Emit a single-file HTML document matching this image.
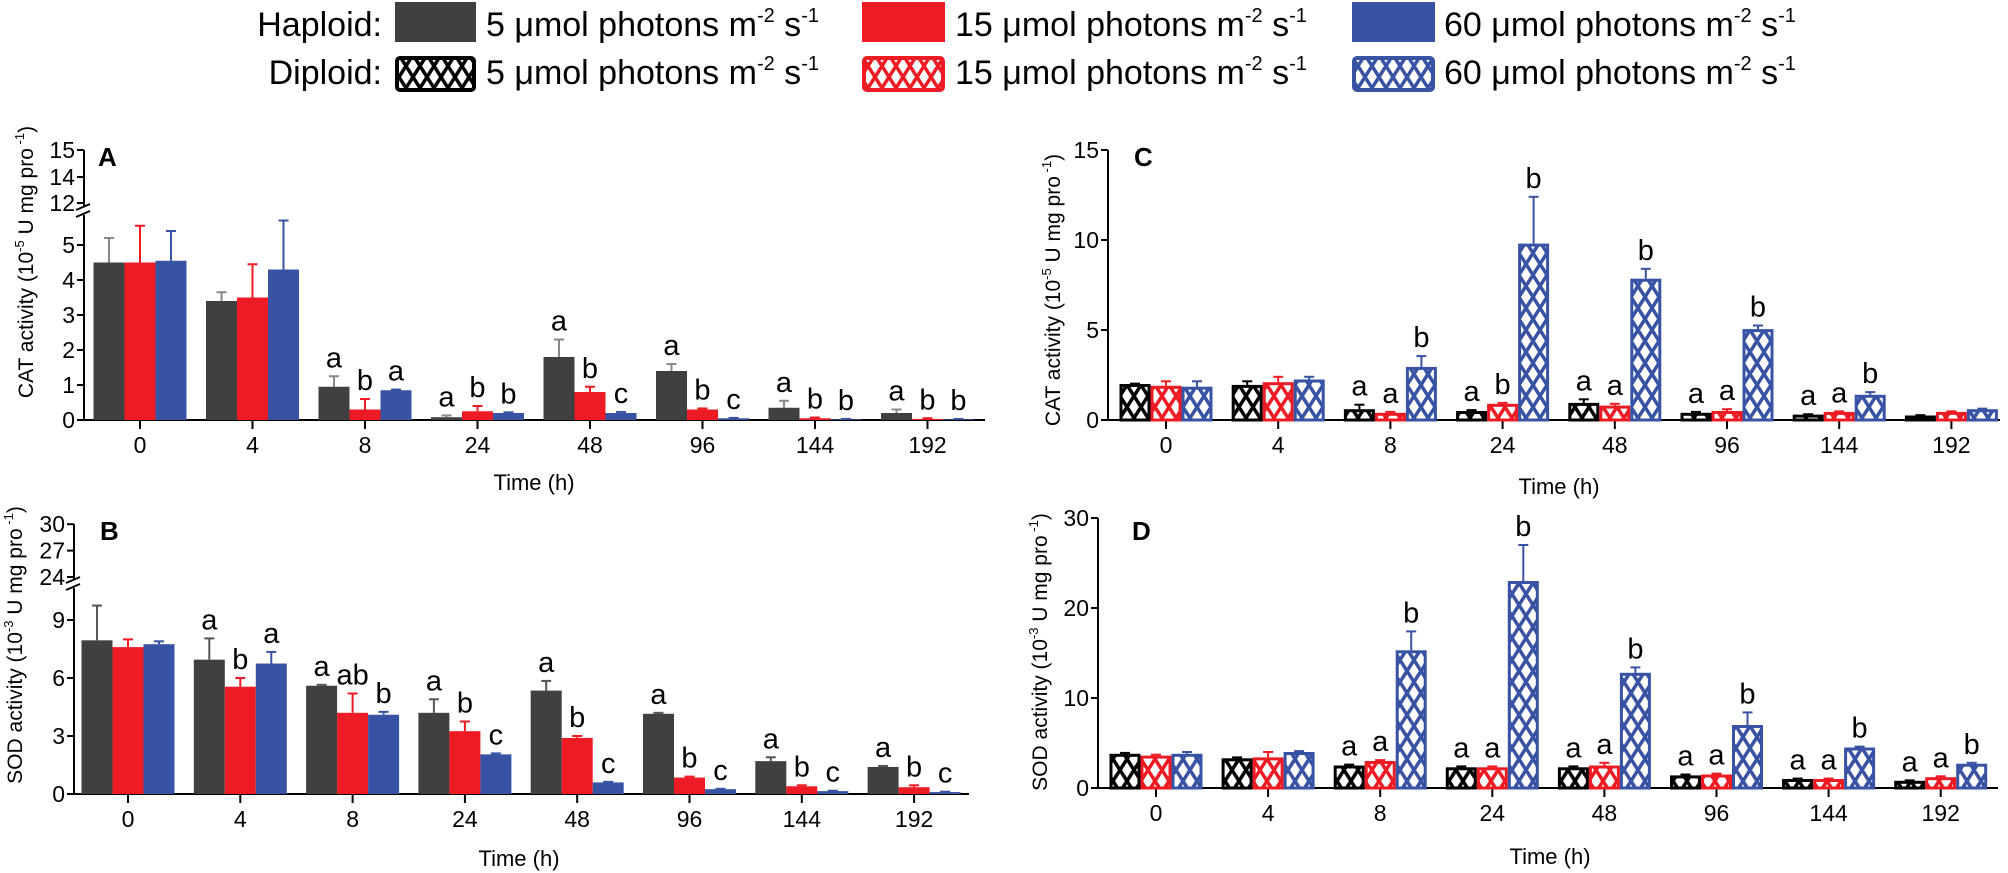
<!DOCTYPE html>
<html><head><meta charset="utf-8">
<style>
html,body{margin:0;padding:0;background:#fff;}
svg{display:block;font-family:"Liberation Sans",Arial,sans-serif;}
</style></head>
<body>
<svg id="fig" width="2008" height="873" viewBox="0 0 2008 873" xmlns="http://www.w3.org/2000/svg">
<defs>
<pattern id="hk" patternUnits="userSpaceOnUse" width="14" height="22"><rect width="14" height="22" fill="#fff"/><path d="M0,0L14,22M14,0L0,22M-7,11L0,22M7,-11L0,0" stroke="#000" stroke-width="3.5"/></pattern>
<pattern id="hr" patternUnits="userSpaceOnUse" width="14" height="22"><rect width="14" height="22" fill="#fff"/><path d="M0,0L14,22M14,0L0,22" stroke="#ed1c24" stroke-width="3.5"/></pattern>
<pattern id="hb" patternUnits="userSpaceOnUse" width="14" height="22"><rect width="14" height="22" fill="#fff"/><path d="M0,0L14,22M14,0L0,22" stroke="#3953a4" stroke-width="3.5"/></pattern>
</defs>
<g id="legend" font-size="34">
  <text x="382" y="36" text-anchor="end">Haploid:</text>
  <rect x="395" y="2" width="81" height="40" fill="#404040"/>
  <text x="486" y="36">5 μmol photons m<tspan font-size="20" dy="-14">-2</tspan><tspan dy="14"> s</tspan><tspan font-size="20" dy="-14">-1</tspan></text>
  <rect x="862" y="2" width="83" height="40" fill="#ed1c24"/>
  <text x="955" y="36">15 μmol photons m<tspan font-size="20" dy="-14">-2</tspan><tspan dy="14"> s</tspan><tspan font-size="20" dy="-14">-1</tspan></text>
  <rect x="1352" y="2" width="83" height="40" fill="#3953a4"/>
  <text x="1444" y="36">60 μmol photons m<tspan font-size="20" dy="-14">-2</tspan><tspan dy="14"> s</tspan><tspan font-size="20" dy="-14">-1</tspan></text>
  <text x="382" y="84" text-anchor="end">Diploid:</text>
  <rect x="397" y="58" width="77" height="32" fill="url(#hk)" stroke="#000" stroke-width="4" rx="3"/>
  <text x="486" y="84">5 μmol photons m<tspan font-size="20" dy="-14">-2</tspan><tspan dy="14"> s</tspan><tspan font-size="20" dy="-14">-1</tspan></text>
  <rect x="864" y="58" width="79" height="32" fill="url(#hr)" stroke="#ed1c24" stroke-width="4" rx="3"/>
  <text x="955" y="84">15 μmol photons m<tspan font-size="20" dy="-14">-2</tspan><tspan dy="14"> s</tspan><tspan font-size="20" dy="-14">-1</tspan></text>
  <rect x="1354" y="58" width="79" height="32" fill="url(#hb)" stroke="#3953a4" stroke-width="4" rx="3"/>
  <text x="1444" y="84">60 μmol photons m<tspan font-size="20" dy="-14">-2</tspan><tspan dy="14"> s</tspan><tspan font-size="20" dy="-14">-1</tspan></text>
</g>
</svg>
<script>
const times = ["0","4","8","24","48","96","144","192"];
// Panel A: CAT haploid
const catHap5 = [4.5,3.4,0.95,0.08,1.8,1.4,0.35,0.2];
const catHap5Err = [0.7,0.25,0.3,0.05,0.5,0.2,0.2,0.1];
const catHap15 = [4.5,3.5,0.3,0.25,0.8,0.3,0.05,0.03];
const catHap15Err = [1.05,0.95,0.3,0.15,0.15,0.03,0.02,0.02];
const catHap60 = [4.55,4.3,0.85,0.2,0.2,0.05,0.02,0.02];
const catHap60Err = [0.85,1.4,0.02,0.02,0.03,0.01,0.01,0.01];
const catHapLetters = [["","",""],["","",""],["a","b","a"],["a","b","b"],["a","b","c"],["a","b","c"],["a","b","b"],["a","b","b"]];
// Panel B: SOD haploid
const sodHap5 = [7.95,6.95,5.6,4.2,5.35,4.15,1.7,1.4];
const sodHap5Err = [1.8,1.1,0.05,0.7,0.5,0.05,0.2,0.05];
const sodHap15 = [7.6,5.55,4.2,3.25,2.9,0.85,0.4,0.35];
const sodHap15Err = [0.4,0.45,1.0,0.5,0.1,0.05,0.05,0.1];
const sodHap60 = [7.75,6.75,4.1,2.05,0.6,0.25,0.15,0.1];
const sodHap60Err = [0.15,0.6,0.15,0.05,0.03,0.02,0.02,0.02];
const sodHapLetters = [["","",""],["a","b","a"],["a","ab","b"],["a","b","c"],["a","b","c"],["a","b","c"],["a","b","c"],["a","b","c"]];
// Panel C: CAT diploid
const catDip5 = [2.0,1.95,0.6,0.5,0.95,0.4,0.3,0.25];
const catDip5Err = [0.02,0.2,0.25,0.05,0.2,0.05,0.02,0.02];
const catDip15 = [1.9,2.1,0.4,0.9,0.8,0.5,0.45,0.45];
const catDip15Err = [0.25,0.3,0.05,0.05,0.1,0.1,0.03,0.03];
const catDip60 = [1.85,2.25,2.95,9.8,7.85,5.05,1.4,0.6];
const catDip60Err = [0.3,0.15,0.6,2.6,0.55,0.2,0.15,0.03];
const catDipLetters = [["","",""],["","",""],["a","a","b"],["a","b","b"],["a","a","b"],["a","a","b"],["a","a","b"],["","",""]];
// Panel D: SOD diploid
const sodDip5 = [3.8,3.3,2.5,2.3,2.3,1.4,1.0,0.8];
const sodDip5Err = [0.1,0.1,0.1,0.1,0.1,0.1,0.05,0.05];
const sodDip15 = [3.6,3.4,3.0,2.3,2.5,1.5,1.0,1.2];
const sodDip15Err = [0.1,0.6,0.1,0.1,0.3,0.1,0.05,0.1];
const sodDip60 = [3.8,4.0,15.3,23.0,12.8,7.0,4.5,2.7];
const sodDip60Err = [0.2,0.1,2.1,4.0,0.6,1.4,0.1,0.1];
const sodDipLetters = [["","",""],["","",""],["a","a","b"],["a","a","b"],["a","a","b"],["a","a","b"],["a","a","b"],["a","a","b"]];

const NS = "http://www.w3.org/2000/svg";
const svg = document.getElementById("fig");
function mk(tag, attrs, parent){const e=document.createElementNS(NS,tag);for(const k in attrs)e.setAttribute(k,attrs[k]);(parent||svg).appendChild(e);return e;}

function panel(p){
  const g = mk("g",{});
  
  
  const xOf = i => p.x0 + i*p.step;
  // y axis
  const ya = mk("line",{x1:p.ax,y1:p.yTopAxis,x2:p.ax,y2:p.y0,stroke:"#000","stroke-width":2},g);
  
  
  const xa = mk("line",{x1:p.ax,y1:p.y0,x2:p.xEnd,y2:p.y0,stroke:"#000","stroke-width":2},g);
  
  
  p.yticks.forEach(t=>{
    const y = p.y(t);
    mk("line",{x1:p.ax-7,y1:y,x2:p.ax,y2:y,stroke:"#000","stroke-width":2},g);
    const tl = mk("text",{x:p.ax-9,y:y+8,"text-anchor":"end","font-size":23},g);
    tl.textContent = t;
    
    
  });
  if(p.brk){
    mk("rect",{x:p.ax-6,y:p.brk-5,width:12,height:8,fill:"#fff"},g);
    mk("path",{d:`M${p.ax-8},${p.brk-2}l14,-6M${p.ax-8},${p.brk+5}l14,-6`,stroke:"#000","stroke-width":2,fill:"none"},g);
  }
  times.forEach((t,i)=>{
    const x = xOf(i);
    mk("line",{x1:x,y1:p.y0,x2:x,y2:p.y0+9,stroke:"#000","stroke-width":2},g);
    const tl = mk("text",{x:x,y:p.y0+33,"text-anchor":"middle","font-size":23},g);
    tl.textContent = t;
    
    
  });
  const bw = 31;
  p.series.forEach((s,si)=>{
    s.vals.forEach((v,i)=>{
      const xl = xOf(i) + (si-1)*bw - bw/2;
      const yt = p.y(v);
      const ye = p.y(v + s.err[i]);
      const el = mk("line",{x1:xl+bw/2,y1:yt,x2:xl+bw/2,y2:ye,stroke:s.ec,"stroke-width":2},g);
      mk("line",{x1:xl+bw/2-5,y1:ye,x2:xl+bw/2+5,y2:ye,stroke:s.ec,"stroke-width":2},g);
      let r;
      if(p.hatch){
        r = mk("rect",{x:xl+1.5,y:yt+1.5,width:bw-3,height:Math.max(p.y0-yt-1.5,0.5),fill:s.fill,stroke:s.color,"stroke-width":3},g);
      } else {
        r = mk("rect",{x:xl,y:yt,width:bw,height:p.y0-yt,fill:s.color},g);
      }
      
      
      const L = p.letters[i][si];
      if(L){
        const lt = mk("text",{x:xl+bw/2,y:ye-9,"text-anchor":"middle","font-size":29},g);
        lt.textContent = L;
        
        
      }
    });
  });
  const pl = mk("text",{x:p.lx,y:p.ly,"font-size":26,"font-weight":"bold"},g);
  pl.textContent = p.id;
  
  
  const xt = mk("text",{x:p.xtx,y:p.xty,"text-anchor":"middle","font-size":22},g);
  xt.textContent = "Time (h)";
  
  
  const yt = mk("text",{transform:`translate(${p.ytx},${p.yty}) rotate(-90)`,"text-anchor":"middle","font-size":21},g);
  yt.innerHTML = p.ylab + ` activity (10<tspan font-size="13" dy="-9">${p.exp}</tspan><tspan dy="9"> U mg pro</tspan><tspan font-size="13" dy="-9"> -1</tspan><tspan dy="9">)</tspan>`;
  
  
}

const hapCols = {c5:"#404040",c15:"#ed1c24",c60:"#3953a4"};
panel({id:"A",ax:84,y0:420,yTopAxis:150,xEnd:985,x0:140,step:112.5,
  y:v=> v<=6 ? 420-v*35 : (v<=14 ? 203-(v-12)*13 : 177-(v-14)*27),
  yticks:[0,1,2,3,4,5,12,14,15],brk:212,hatch:false,letters:catHapLetters,
  series:[{key:"5",vals:catHap5,err:catHap5Err,color:hapCols.c5,ec:"#888"},{key:"15",vals:catHap15,err:catHap15Err,color:hapCols.c15,ec:"#ed1c24"},{key:"60",vals:catHap60,err:catHap60Err,color:hapCols.c60,ec:"#3953a4"}],
  lx:98,ly:166,xtx:534,xty:490,ytx:33,yty:262,ylab:"CAT",exp:"-5"});
panel({id:"B",ax:74,y0:794,yTopAxis:524,xEnd:969,x0:128,step:112.3,
  y:v=> v<=12 ? 794-v*19.33 : 577-(v-24)*8.8,
  yticks:[0,3,6,9,24,27,30],brk:585,hatch:false,letters:sodHapLetters,
  series:[{key:"5",vals:sodHap5,err:sodHap5Err,color:hapCols.c5,ec:"#555"},{key:"15",vals:sodHap15,err:sodHap15Err,color:hapCols.c15,ec:"#ed1c24"},{key:"60",vals:sodHap60,err:sodHap60Err,color:hapCols.c60,ec:"#3953a4"}],
  lx:100,ly:540,xtx:519,xty:866,ytx:22,yty:645,ylab:"SOD",exp:"-3"});
panel({id:"C",ax:1108,y0:420,yTopAxis:150,xEnd:2000,x0:1166,step:112.2,
  y:v=> 420-v*18, yticks:[0,5,10,15],hatch:true,letters:catDipLetters,
  series:[{key:"5",vals:catDip5,err:catDip5Err,color:"#000",fill:"url(#hk)",ec:"#000"},{key:"15",vals:catDip15,err:catDip15Err,color:"#ed1c24",fill:"url(#hr)",ec:"#ed1c24"},{key:"60",vals:catDip60,err:catDip60Err,color:"#3953a4",fill:"url(#hb)",ec:"#3953a4"}],
  lx:1134,ly:166,xtx:1559,xty:494,ytx:1060,yty:290,ylab:"CAT",exp:"-5"});
panel({id:"D",ax:1098,y0:788,yTopAxis:518,xEnd:1998,x0:1156,step:112.1,
  y:v=> 788-v*9, yticks:[0,10,20,30],hatch:true,letters:sodDipLetters,
  series:[{key:"5",vals:sodDip5,err:sodDip5Err,color:"#000",fill:"url(#hk)",ec:"#000"},{key:"15",vals:sodDip15,err:sodDip15Err,color:"#ed1c24",fill:"url(#hr)",ec:"#ed1c24"},{key:"60",vals:sodDip60,err:sodDip60Err,color:"#3953a4",fill:"url(#hb)",ec:"#3953a4"}],
  lx:1132,ly:540,xtx:1550,xty:864,ytx:1047,yty:652,ylab:"SOD",exp:"-3"});
</script>
</body></html>
